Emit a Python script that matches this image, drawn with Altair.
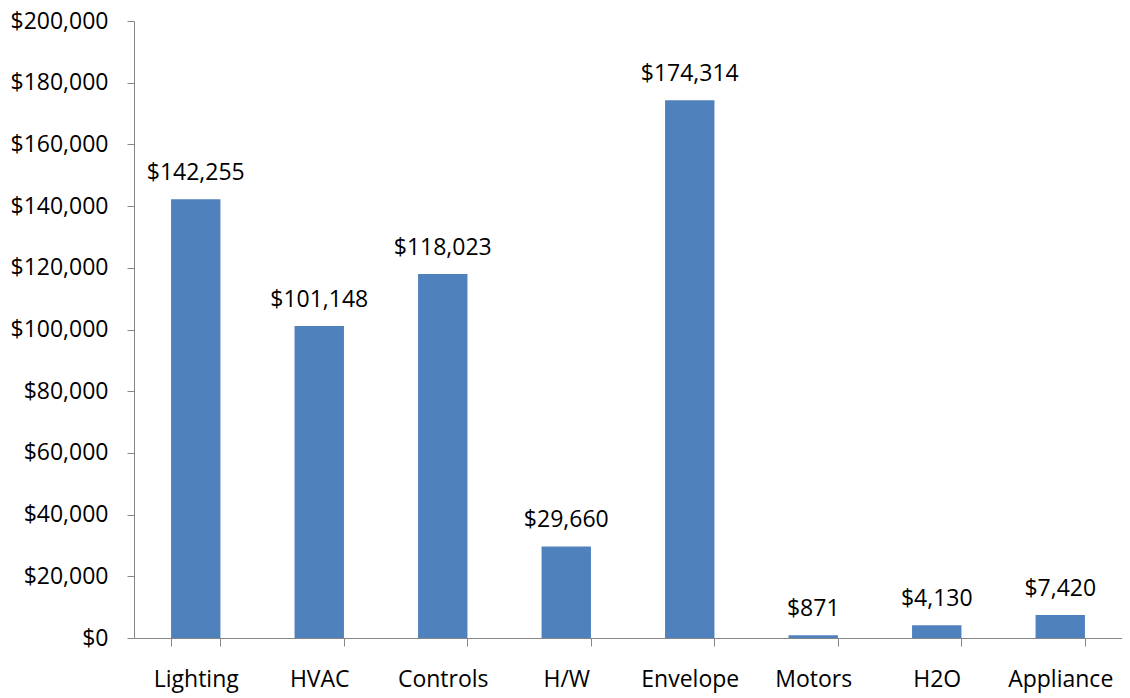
import altair as alt
import pandas as pd

categories = ["Lighting", "HVAC", "Controls", "H/W", "Envelope", "Motors", "H2O", "Appliance"]
values = [142255, 101148, 118023, 29660, 174314, 871, 4130, 7420]

df = pd.DataFrame({"category": categories, "value": values})

FONT = "Open Sans"
FS = 23
GRAY = "#868686"

x = alt.X(
    "category:N",
    sort=categories,
    scale=alt.Scale(paddingInner=0.6, paddingOuter=0.3),
    axis=alt.Axis(
        title=None,
        labelAngle=0,
        tickBand="extent",
        tickSize=8,
        tickColor=GRAY,
        domainColor=GRAY,
        labelPadding=22,
        labelFontSize=FS,
        labelFont=FONT,
        labelColor="#000000",
        grid=False,
    ),
)
y = alt.Y(
    "value:Q",
    scale=alt.Scale(domain=[0, 200000], nice=False),
    axis=alt.Axis(
        title=None,
        values=list(range(0, 200001, 20000)),
        format="$,.0f",
        tickSize=7,
        tickColor=GRAY,
        domainColor=GRAY,
        labelPadding=19,
        labelFontSize=FS,
        labelFont=FONT,
        labelColor="#000000",
        grid=False,
    ),
)

bars = alt.Chart(df).mark_bar(color="#4F81BD").encode(x=x, y=y)
text = alt.Chart(df).mark_text(
    baseline="alphabetic", dy=-19, fontSize=FS, font=FONT, color="#000000"
).encode(x=x, y=y, text=alt.Text("value:Q", format="$,.0f"))

chart = (
    alt.layer(bars, text)
    .properties(
        width=988,
        height=617,
        autosize=alt.AutoSizeParams(type="none"),
        padding={"left": 126, "top": 13, "right": 0, "bottom": 58},
    )
    .configure_view(stroke=None)
)

chart.save("out.html", embed_options={"renderer": "svg", "actions": False})
